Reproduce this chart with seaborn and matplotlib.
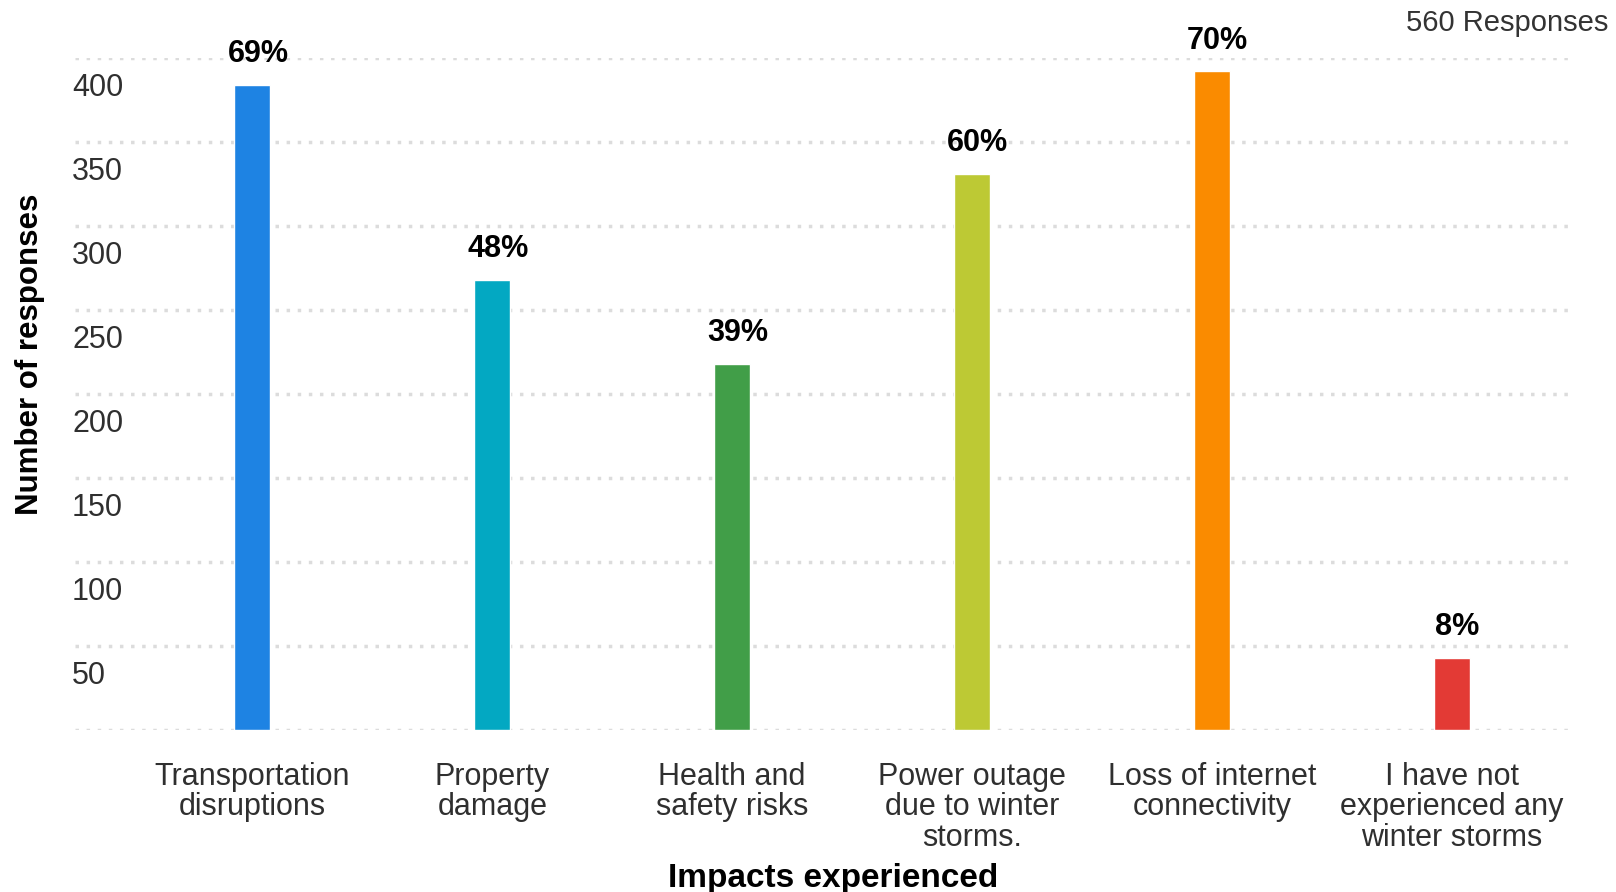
import matplotlib
matplotlib.use("Agg")
import matplotlib.pyplot as plt
from matplotlib.transforms import ScaledTranslation
import seaborn as sns
import pandas as pd

categories = [
    "Transportation\ndisruptions",
    "Property\ndamage",
    "Health and\nsafety risks",
    "Power outage\ndue to winter\nstorms.",
    "Loss of internet\nconnectivity",
    "I have not\nexperienced any\nwinter storms",
]
responses = [384, 268, 218, 331, 392, 43]
percent_labels = ["69%", "48%", "39%", "60%", "70%", "8%"]
colors = ["#1E83E3", "#03A8C2", "#419E48", "#BDC934", "#FA8B00", "#E33A35"]
yticks = [0, 50, 100, 150, 200, 250, 300, 350, 400]
ytick_labels = ["", "50", "100", "150", "200", "250", "300", "350", "400"]
total_label = "560 Responses"
x_title = "Impacts experienced"
y_title = "Number of responses"

sns.set_theme(style="white")
plt.rcParams["font.family"] = ["Liberation Sans", "DejaVu Sans"]

W, H, DPI = 1616, 892, 100
fig = plt.figure(figsize=(W / DPI, H / DPI), dpi=DPI)
fig.patch.set_facecolor("white")
left, right, bottom, top = 75, 1574, 730, 58
ax = fig.add_axes([left / W, (H - bottom) / H, (right - left) / W, (bottom - top) / H])

df = pd.DataFrame({"cat": categories, "val": responses})
sns.barplot(data=df, x="cat", y="val", hue="cat", palette=colors, legend=False,
            width=0.15, saturation=1.0, ax=ax, zorder=3)

ax.set_xlim(-0.74, 5.51)
ax.set_ylim(0, 400)

ax.set_yticks(yticks)
ax.set_yticklabels(ytick_labels, fontsize=22, color="#2f2f2f", ha="left")
ax.tick_params(axis="y", length=0, pad=0)
off = ScaledTranslation(-3 / DPI, -26 / DPI, fig.dpi_scale_trans)
for lbl in ax.get_yticklabels():
    lbl.set_transform(lbl.get_transform() + off)

ax.set_xticks(range(len(categories)))
ax.set_xticklabels(categories, fontsize=22, color="#2f2f2f", linespacing=1.02)
ax.tick_params(axis="x", length=0, pad=23)

ax.set_xlabel("")
ax.set_ylabel("")
for s in ax.spines.values():
    s.set_visible(False)

ax.yaxis.grid(True, color="#dcdcdc", linestyle=(0, (1, 2.2)), linewidth=2.5, zorder=0)
ax.xaxis.grid(False)
ax.set_axisbelow(True)

for i, (v, p) in enumerate(zip(responses, percent_labels)):
    ax.annotate(p, (i, v), xytext=(4, 22), textcoords="offset points",
                ha="center", va="center", fontsize=22, fontweight="bold",
                color="black", annotation_clip=False)

fig.text(833 / W, 1 - 879 / H, x_title, ha="center", va="center",
         fontsize=24, fontweight="bold", color="black")
fig.text(30 / W, 1 - 354 / H, y_title, ha="center", va="center", rotation=90,
         fontsize=22.5, fontweight="bold", color="black")
fig.text(1608 / W, 1 - 23 / H, total_label, ha="right", va="center",
         fontsize=21, color="#333333")

fig.savefig("out.png", dpi=DPI, facecolor="white")
